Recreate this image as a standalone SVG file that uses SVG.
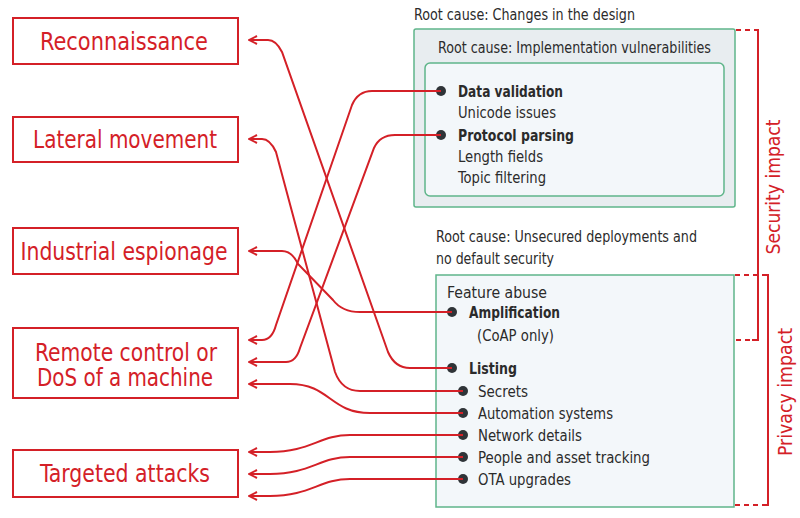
<svg xmlns="http://www.w3.org/2000/svg" width="800" height="518" viewBox="0 0 800 518">
<defs>
<marker id="ah" viewBox="0 0 10 10" refX="1" refY="5" markerWidth="10" markerHeight="10" markerUnits="userSpaceOnUse" orient="auto">
<path d="M9,1 L1,5 L9,9" fill="none" stroke="#d42027" stroke-width="2"/>
</marker>
<style>
.lb{fill:#fff;stroke:#d42027;stroke-width:2}
.lt{font-family:"DejaVu Sans Condensed","Liberation Sans",sans-serif;font-size:24px;fill:#d42027;text-anchor:middle}
.t{font-family:"DejaVu Sans Condensed","Liberation Sans",sans-serif;font-size:15px;fill:#2b2b2b}
.b{font-weight:bold}
.c{fill:none;stroke:#d42027;stroke-width:2;marker-start:url(#ah)}
.d{fill:#2f3438}
.br{fill:none;stroke:#d42027;stroke-width:2}
.ds{stroke-dasharray:5,4}
.rt{font-family:"DejaVu Sans Condensed","Liberation Sans",sans-serif;font-size:20px;fill:#d42027;text-anchor:middle}
</style>
</defs>
<rect width="800" height="518" fill="#fff"/>
<g id="n-recon"><rect class="lb" x="13" y="18" width="225" height="46"/><text class="lt" x="124" y="50" textLength="168" lengthAdjust="spacingAndGlyphs">Reconnaissance</text></g>
<g id="n-lateral"><rect class="lb" x="13" y="117" width="225" height="45"/><text class="lt" x="125" y="148" textLength="184" lengthAdjust="spacingAndGlyphs">Lateral movement</text></g>
<g id="n-espionage"><rect class="lb" x="13" y="228" width="225" height="46"/><text class="lt" x="124" y="260" textLength="207" lengthAdjust="spacingAndGlyphs">Industrial espionage</text></g>
<g id="n-remote"><rect class="lb" x="13" y="328" width="225" height="70"/><text class="lt" x="126" y="361" textLength="182" lengthAdjust="spacingAndGlyphs">Remote control or</text><text class="lt" x="125" y="386" textLength="176" lengthAdjust="spacingAndGlyphs">DoS of a machine</text></g>
<g id="n-targeted"><rect class="lb" x="13" y="450" width="225" height="47"/><text class="lt" x="125" y="482" textLength="170" lengthAdjust="spacingAndGlyphs">Targeted attacks</text></g>

<g id="n-design">
<text class="t" x="414" y="20" textLength="221" lengthAdjust="spacingAndGlyphs">Root cause: Changes in the design</text>
<rect x="414" y="29" width="321" height="178" rx="2" fill="#e8edf0" stroke="#5fb58a" stroke-width="1.5"/>
<text class="t" x="438" y="53" textLength="273" lengthAdjust="spacingAndGlyphs">Root cause: Implementation vulnerabilities</text>
<rect x="425" y="63" width="299" height="133" rx="5" fill="#f3f7fa" stroke="#5fb58a" stroke-width="1.5"/>
<circle class="d" cx="441" cy="91" r="5"/><text class="t b" x="458" y="97" textLength="105" lengthAdjust="spacingAndGlyphs">Data validation</text>
<text class="t" x="458" y="118" textLength="98" lengthAdjust="spacingAndGlyphs">Unicode issues</text>
<circle class="d" cx="441" cy="135" r="5"/><text class="t b" x="458" y="141" textLength="116" lengthAdjust="spacingAndGlyphs">Protocol parsing</text>
<text class="t" x="458" y="162" textLength="85" lengthAdjust="spacingAndGlyphs">Length fields</text>
<text class="t" x="458" y="183" textLength="88" lengthAdjust="spacingAndGlyphs">Topic filtering</text>
</g>
<g id="n-unsecured">
<text class="t" x="436" y="242" textLength="261" lengthAdjust="spacingAndGlyphs">Root cause: Unsecured deployments and</text>
<text class="t" x="436" y="264" textLength="118" lengthAdjust="spacingAndGlyphs">no default security</text>
<rect x="436" y="275" width="298" height="232" fill="#f3f7fa" stroke="#5fb58a" stroke-width="1.5"/>
<text class="t" x="447" y="298" textLength="100" lengthAdjust="spacingAndGlyphs">Feature abuse</text>
<circle class="d" cx="452" cy="312" r="5"/><text class="t b" x="469" y="318" textLength="91" lengthAdjust="spacingAndGlyphs">Amplification</text>
<text class="t" x="477" y="341" textLength="77" lengthAdjust="spacingAndGlyphs">(CoAP only)</text>
<circle class="d" cx="452" cy="368" r="5"/><text class="t b" x="469" y="374" textLength="48" lengthAdjust="spacingAndGlyphs">Listing</text>
<circle class="d" cx="463" cy="391" r="5"/><text class="t" x="478" y="397" textLength="50" lengthAdjust="spacingAndGlyphs">Secrets</text>
<circle class="d" cx="463" cy="413" r="5"/><text class="t" x="478" y="419" textLength="135" lengthAdjust="spacingAndGlyphs">Automation systems</text>
<circle class="d" cx="463" cy="435" r="5"/><text class="t" x="478" y="441" textLength="104" lengthAdjust="spacingAndGlyphs">Network details</text>
<circle class="d" cx="463" cy="457" r="5"/><text class="t" x="478" y="463" textLength="172" lengthAdjust="spacingAndGlyphs">People and asset tracking</text>
<circle class="d" cx="463" cy="479" r="5"/><text class="t" x="478" y="485" textLength="93" lengthAdjust="spacingAndGlyphs">OTA upgrades</text>
</g>
<g id="n-brackets">
<path class="br ds" d="M736,30 H754"/><path class="br" d="M754,30 H758 V340 H752"/><path class="br ds" d="M736,340 H752"/>
<text class="rt" transform="translate(780,187) rotate(-90)" textLength="135" lengthAdjust="spacingAndGlyphs">Security impact</text>
<path class="br ds" d="M735,275 H764"/><path class="br" d="M764,275 H768 V505 H762"/><path class="br ds" d="M735,505 H762"/>
<text class="rt" transform="translate(792,392) rotate(-90)" textLength="128" lengthAdjust="spacingAndGlyphs">Privacy impact</text>
</g>
<g id="connectors">
<path class="c" d="M249,40 H268 Q276,40 282,52 L388,352 Q395,368 410,368 H452"/>
<path class="c" d="M249,139 H262 Q270,139 276,152 L335,372 Q342,391 360,391 H463"/>
<path class="c" d="M249,251 H282 Q292,251 298,264 L333,300 Q342,312 360,312 H452"/>
<path class="c" d="M249,340 H262 Q272,340 276,325 L352,105 Q358,91 372,91 H441"/>
<path class="c" d="M249,362 H286 Q296,362 300,348 L374,148 Q380,135 395,135 H441"/>
<path class="c" d="M249,384 H290 C330,384 330,413 370,413 H463"/>
<path class="c" d="M249,452 H270 C310,452 320,435 350,435 H463"/>
<path class="c" d="M249,474 H270 C310,474 320,457 350,457 H463"/>
<path class="c" d="M249,496 H270 C310,496 320,479 350,479 H463"/>
</g>
</svg>
